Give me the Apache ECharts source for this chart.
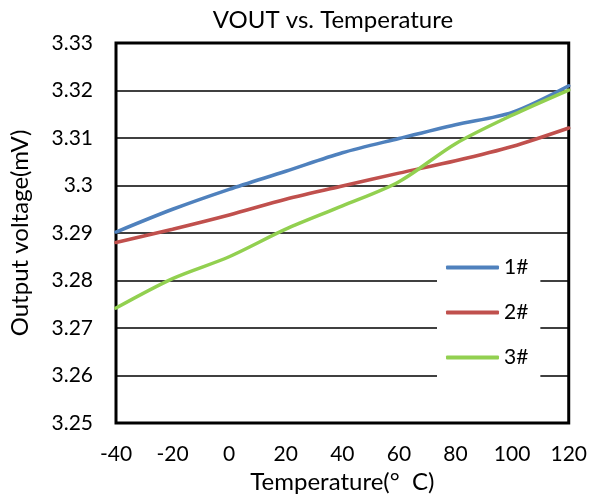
<!DOCTYPE html>
<html>
<head>
<meta charset="utf-8">
<script src="https://cdn.jsdelivr.net/npm/echarts@6/dist/echarts.min.js"></script>
<style>html,body{margin:0;padding:0;background:#fff}#c{width:590px;height:499px}</style>
</head>
<body>
<div id="c"></div>
<script>
const temps = [-40, -20, 0, 20, 40, 60, 80, 100, 120];
const s1 = [3.2902, 3.2950, 3.2992, 3.3030, 3.3069, 3.3099, 3.3128, 3.3154, 3.3210];
const s2 = [3.2880, 3.2908, 3.2938, 3.2971, 3.2999, 3.3026, 3.3052, 3.3082, 3.3121];
const s3 = [3.2742, 3.2804, 3.2850, 3.2908, 3.2957, 3.3008, 3.3088, 3.3148, 3.3201];
const seriesNames = ['1#', '2#', '3#'];
const yTicks = ['3.25', '3.26', '3.27', '3.28', '3.29', '3.3', '3.31', '3.32', '3.33'];
const xTicks = ['-40', '-20', '0', '20', '40', '60', '80', '100', '120'];

const FONT = 'Lato';
const colors = ['#4F81BD', '#C0504D', '#92D050'];
const pairs = arr => temps.map((t, i) => [t, arr[i]]);

const chart = echarts.init(document.getElementById('c'));
chart.setOption({
  animation: false,
  textStyle: { fontFamily: FONT },
  title: {
    text: 'VOUT vs. Temperature',
    left: 328, textAlign: 'center', top: 3,
    textStyle: { fontFamily: FONT, fontSize: 24, fontWeight: 'normal', color: '#000' }
  },
  grid: {
    left: 115, right: 20, top: 43, bottom: 76,
    show: true, borderColor: '#000', borderWidth: 3, backgroundColor: '#fff'
  },
  legend: {
    orient: 'vertical',
    left: 437, top: 248,
    padding: [9, 12, 14, 9],
    backgroundColor: '#fff',
    itemWidth: 53, itemHeight: 4, itemGap: 24,
    icon: 'roundRect',
    data: seriesNames,
    textStyle: { fontFamily: FONT, fontSize: 21, color: '#000', padding: [0, 0, 0, 0] }
  },
  xAxis: {
    type: 'value', min: -40, max: 120, interval: 20,
    name: 'Temperature(°  C)', nameLocation: 'middle', nameGap: 38,
    nameTextStyle: { fontFamily: FONT, fontSize: 24, color: '#000' },
    axisLine: { show: false }, axisTick: { show: false },
    splitLine: { show: false },
    axisLabel: {
      margin: 21, fontFamily: FONT, fontSize: 21, color: '#000',
      formatter: v => xTicks[Math.round((v + 40) / 20)]
    }
  },
  yAxis: {
    type: 'value', min: 3.25, max: 3.33, interval: 0.01,
    name: 'Output voltage(mV)', nameLocation: 'middle', nameGap: 84, nameRotate: 90,
    nameTextStyle: { fontFamily: FONT, fontSize: 24, color: '#000' },
    axisLine: { show: false }, axisTick: { show: false },
    splitLine: { show: true, lineStyle: { color: '#000', width: 1.5 } },
    axisLabel: {
      margin: 23, fontFamily: FONT, fontSize: 21, color: '#000',
      formatter: v => yTicks[Math.round((v - 3.25) / 0.01)]
    }
  },
  series: [s1, s2, s3].map((arr, i) => ({
    name: seriesNames[i], type: 'line', smooth: 0.3, showSymbol: false, symbol: 'none',
    data: pairs(arr), color: colors[i],
    lineStyle: { width: 3.5, color: colors[i], cap: 'round' }
  }))
});
</script>
</body>
</html>
